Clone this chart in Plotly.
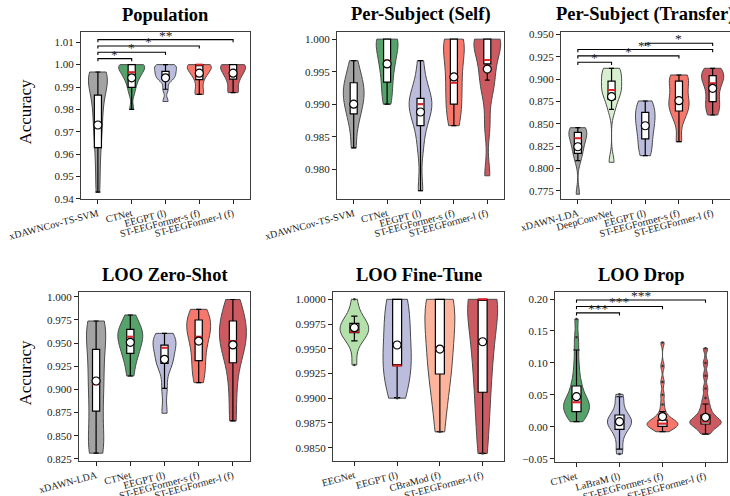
import plotly.graph_objects as go

FONT = "Liberation Serif"

# ---------------- Population ----------------
pop_models = ["xDAWNCov-TS-SVM", "CTNet", "EEGPT (l)", "ST-EEGFormer-s (f)", "ST-EEGFormer-l (f)"]
pop_scores = [
    [0.9430, 0.9520, 0.9600, 0.9660, 0.9710, 0.9750, 0.9790, 0.9830, 0.9860, 0.9890, 0.9910, 0.9930, 0.9950, 0.9960, 0.9967, 0.9967],
    [0.9800, 0.9870, 0.9900, 0.9920, 0.9940, 0.9950, 0.9960, 0.9970, 0.9980, 0.9990, 1.0, 1.0, 1.0, 1.0],
    [0.9835, 0.9890, 0.9930, 0.9940, 0.9950, 0.9960, 0.9970, 0.9980, 0.9990, 1.0, 1.0],
    [0.9867, 0.9867, 0.9900, 0.9930, 0.9950, 0.9960, 0.9970, 0.9980, 0.9990, 1.0, 1.0, 1.0, 1.0],
    [0.9875, 0.9875, 0.9910, 0.9930, 0.9950, 0.9960, 0.9970, 0.9980, 1.0, 1.0, 1.0, 1.0],
]
pop_q1 = [0.9629, 0.9898, 0.9936, 0.9933, 0.9935]
pop_med = [0.9730, 0.9966, 0.9950, 1.0000, 0.9967]
pop_q3 = [0.9864, 1.0000, 0.9970, 1.0000, 1.0000]
pop_lo = [0.9430, 0.9800, 0.9890, 0.9867, 0.9875]
pop_hi = [0.9967, 1.0000, 1.0000, 1.0000, 1.0000]
pop_mean = [0.9730, 0.9941, 0.9941, 0.9962, 0.9962]
pop_sig = [(0, 1, "*"), (0, 2, "*"), (0, 3, "*"), (0, 4, "**")]

# ---------------- Per-Subject (Self) ----------------
self_models = ["xDAWNCov-TS-SVM", "CTNet", "EEGPT (l)", "ST-EEGFormer-s (f)", "ST-EEGFormer-l (f)"]
self_scores = [
    [0.9833, 0.9867, 0.9883, 0.9900, 0.9900, 0.9917, 0.9917, 0.9933, 0.9933, 0.9950, 0.9967],
    [0.9900, 0.9917, 0.9933, 0.9950, 0.9967, 0.9967, 0.9983, 1.0, 1.0, 1.0, 1.0],
    [0.9767, 0.9833, 0.9867, 0.9883, 0.9900, 0.9900, 0.9900, 0.9917, 0.9933, 0.9967],
    [0.9867, 0.9883, 0.9900, 0.9917, 0.9933, 0.9950, 0.9967, 0.9983, 1.0, 1.0, 1.0],
    [0.9790, 0.9867, 0.9917, 0.9933, 0.9950, 0.9967, 0.9983, 1.0, 1.0, 1.0, 1.0],
]
self_q1 = [0.9885, 0.9934, 0.9867, 0.9900, 0.9962]
self_med = [0.9900, 0.9967, 0.9900, 0.9933, 0.9968]
self_q3 = [0.9933, 1.0000, 0.9909, 1.0000, 1.0000]
self_lo = [0.9833, 0.9900, 0.9767, 0.9867, 0.9937]
self_hi = [0.9967, 1.0000, 0.9967, 1.0000, 1.0000]
self_mean = [0.9900, 0.9962, 0.9888, 0.9942, 0.9954]
self_sig = []

# ---------------- Per-Subject (Transfer) ----------------
tr_models = ["xDAWN-LDA", "DeepConvNet", "EEGPT (l)", "ST-EEGFormer-s (f)", "ST-EEGFormer-l (f)"]
tr_scores = [
    [0.7710, 0.8086, 0.8170, 0.8220, 0.8280, 0.8330, 0.8360, 0.8400, 0.8430, 0.8455, 0.8455],
    [0.8068, 0.8661, 0.8780, 0.8850, 0.8880, 0.8930, 0.9000, 0.9050, 0.9120, 0.9120],
    [0.8142, 0.8220, 0.8330, 0.8420, 0.8500, 0.8560, 0.8630, 0.8700, 0.8754],
    [0.8298, 0.8550, 0.8640, 0.8700, 0.8740, 0.8800, 0.8900, 0.8980, 0.9030, 0.9045],
    [0.8597, 0.8680, 0.8746, 0.8850, 0.8950, 0.9000, 0.9040, 0.9080, 0.9120],
]
tr_q1 = [0.8168, 0.8773, 0.8329, 0.8642, 0.8746]
tr_med = [0.8336, 0.8877, 0.8504, 0.8743, 0.8952]
tr_q3 = [0.8403, 0.8977, 0.8627, 0.8977, 0.9037]
tr_lo = [0.8086, 0.8661, 0.8142, 0.8298, 0.8597]
tr_hi = [0.8455, 0.9120, 0.8754, 0.9045, 0.9120]
tr_mean = [0.8242, 0.8802, 0.8477, 0.8757, 0.8896]
tr_sig = [(0, 1, "*"), (0, 3, "*"), (0, 4, "**"), (2, 4, "*")]

# ---------------- LOO Zero-Shot ----------------
zs_models = ["xDAWN-LDA", "CTNet", "EEGPT (l)", "ST-EEGFormer-s (f)", "ST-EEGFormer-l (f)"]
zs_scores = [
    [0.8312, 0.8312, 0.8450, 0.8600, 0.8765, 0.8900, 0.9056, 0.9150, 0.9300, 0.9433, 0.9550, 0.9650, 0.9738, 0.9738],
    [0.9145, 0.9300, 0.9390, 0.9450, 0.9520, 0.9569, 0.9600, 0.9648, 0.9700, 0.9803],
    [0.8743, 0.9012, 0.9250, 0.9282, 0.9350, 0.9450, 0.9479, 0.9520, 0.9580, 0.9605],
    [0.9073, 0.9200, 0.9310, 0.9450, 0.9569, 0.9620, 0.9680, 0.9749, 0.9800, 0.9864],
    [0.8660, 0.9000, 0.9288, 0.9400, 0.9523, 0.9580, 0.9650, 0.9738, 0.9850, 0.9970],
]
zs_q1 = [0.8765, 0.9390, 0.9282, 0.9310, 0.9288]
zs_med = [0.9056, 0.9569, 0.9450, 0.9569, 0.9523]
zs_q3 = [0.9433, 0.9648, 0.9479, 0.9749, 0.9738]
zs_lo = [0.8312, 0.9145, 0.9012, 0.9073, 0.8660]
zs_hi = [0.9738, 0.9803, 0.9605, 0.9864, 0.9970]
zs_mean = [0.9091, 0.9508, 0.9325, 0.9522, 0.9480]
zs_sig = []

# ---------------- LOO Fine-Tune ----------------
ft_models = ["EEGNet", "EEGPT (l)", "CBraMod (f)", "ST-EEGFormer-l (f)"]
ft_scores = [
    [0.99336, 0.9958, 0.9966, 0.9967, 0.9967, 0.9971, 0.9975, 0.9976, 0.9983, 1.0],
    [0.9900, 0.9917, 0.9933, 0.9933, 0.9950, 0.9967, 0.9983, 1.0, 1.0],
    [0.9866, 0.9900, 0.99245, 0.9933, 0.9950, 0.9967, 0.9983, 1.0, 1.0, 1.0],
    [0.9844, 0.9880, 0.9906, 0.9933, 0.9950, 0.9967, 1.0, 1.0, 1.0, 1.0],
]
ft_q1 = [0.99662, 0.99329, 0.99245, 0.99060]
ft_med = [0.99672, 0.99330, 0.99497, 1.00000]
ft_q3 = [0.99757, 1.00000, 1.00000, 1.00000]
ft_lo = [0.99580, 0.99005, 0.98661, 0.98443]
ft_hi = [0.99830, 1.00000, 1.00000, 1.00000]
ft_mean = [0.99713, 0.99538, 0.99497, 0.99571]
ft_sig = []

# ---------------- LOO Drop ----------------
dr_models = ["CTNet", "LaBraM (l)", "ST-EEGFormer-s (f)", "ST-EEGFormer-l (f)"]
dr_scores = [
    [0.0079, 0.0110, 0.0160, 0.0210, 0.0236, 0.0270, 0.0300, 0.0330, 0.0360, 0.0383, 0.0410, 0.0450,
     0.0500, 0.0580, 0.0638, 0.0720, 0.0850, 0.1000, 0.1202, 0.1400, 0.1687],
    [-0.0427, -0.0349, -0.0200, -0.0100, -0.0040, 0.0000, 0.0030, 0.0060, 0.0079, 0.0100, 0.0120,
     0.0150, 0.0184, 0.0260, 0.0350, 0.0470, 0.0508],
    [-0.0078, -0.0050, -0.0020, 0.0005, 0.0015, 0.0025, 0.0035, 0.0040, 0.0050, 0.0070, 0.0090,
     0.0105, 0.0130, 0.0170, 0.0236, 0.0350, 0.0500, 0.0700, 0.0950, 0.1320],
    [-0.0114, -0.0060, -0.0020, 0.0025, 0.0043, 0.0055, 0.0065, 0.0079, 0.0095, 0.0120, 0.0150,
     0.0184, 0.0230, 0.0290, 0.0356, 0.0450, 0.0600, 0.0800, 0.1000, 0.1228],
]
dr_q1 = [0.0236, -0.0040, 0.0005, 0.0043]
dr_med = [0.0383, 0.0079, 0.0050, 0.0079]
dr_q3 = [0.0638, 0.0184, 0.0105, 0.0184]
dr_lo = [0.0079, -0.0349, -0.0078, -0.0114]
dr_hi = [0.1202, 0.0470, 0.0236, 0.0356]
dr_mean = [0.0471, 0.0079, 0.0160, 0.0148]
dr_sig = [(0, 1, "***"), (0, 2, "***"), (0, 3, "***")]

# ---------------- styling ----------------
model_colors = {
    "xDAWNCov-TS-SVM": "#a3a3a3",
    "xDAWN-LDA": "#a3a3a3",
    "CTNet": "#55a26b",
    "EEGPT (l)": "#bcbcdc",
    "LaBraM (l)": "#bcbcdc",
    "ST-EEGFormer-s (f)": "#f6776c",
    "ST-EEGFormer-l (f)": "#cd5a60",
    "DeepConvNet": "#d8f0d0",
    "EEGNet": "#b4e0ab",
    "CBraMod (f)": "#fcb49c",
}

W, H = 730, 496


def px_dom_x(a, b):
    return [a / W, b / W]


def px_dom_y(top, bottom):
    return [1 - bottom / H, 1 - top / H]


panels = [
    dict(title="Population", models=pop_models, scores=pop_scores, q1=pop_q1, med=pop_med, q3=pop_q3,
         lo=pop_lo, hi=pop_hi, mean=pop_mean, sig=pop_sig, fliers=False,
         vwidth=[0.56, 0.77, 0.65, 0.71, 0.74], bw=[0.0055, 0.0022, 0.0016, 0.0022, 0.0022],
         yrange=[0.9399, 1.0146], tick0=0.94, dtick=0.01, fmt=".2f", ylabel=True,
         dx=px_dom_x(81, 250), dy=px_dom_y(32, 199)),
    dict(title="Per-Subject (Self)", models=self_models, scores=self_scores, q1=self_q1, med=self_med,
         q3=self_q3, lo=self_lo, hi=self_hi, mean=self_mean, sig=self_sig, fliers=False,
         vwidth=[0.62, 0.65, 0.68, 0.62, 0.80], bw=[0.0018, 0.0018, 0.0022, 0.0025, 0.0022],
         yrange=[0.97543, 1.0011], tick0=0.98, dtick=0.005, fmt=".3f", ylabel=False,
         dx=px_dom_x(337, 504), dy=px_dom_y(32, 199)),
    dict(title="Per-Subject (Transfer)", models=tr_models, scores=tr_scores, q1=tr_q1, med=tr_med,
         q3=tr_q3, lo=tr_lo, hi=tr_hi, mean=tr_mean, sig=tr_sig, fliers=False,
         vwidth=[0.53, 0.60, 0.58, 0.60, 0.66], bw=[0.008, 0.009, 0.011, 0.010, 0.009],
         yrange=[0.7657, 0.9526], tick0=0.775, dtick=0.025, fmt=".3f", ylabel=False,
         dx=px_dom_x(561, 729.5), dy=px_dom_y(32, 199)),
    dict(title="LOO Zero-Shot", models=zs_models, scores=zs_scores, q1=zs_q1, med=zs_med, q3=zs_q3,
         lo=zs_lo, hi=zs_hi, mean=zs_mean, sig=zs_sig, fliers=False,
         vwidth=[0.56, 0.73, 0.67, 0.70, 0.79], bw=[0.02, 0.010, 0.010, 0.014, 0.018],
         yrange=[0.8228, 1.0051], tick0=0.825, dtick=0.025, fmt=".3f", ylabel=True,
         dx=px_dom_x(79, 250), dy=px_dom_y(292, 461)),
    dict(title="LOO Fine-Tune", models=ft_models, scores=ft_scores, q1=ft_q1, med=ft_med, q3=ft_q3,
         lo=ft_lo, hi=ft_hi, mean=ft_mean, sig=ft_sig, fliers=True,
         vwidth=[0.67, 0.66, 0.70, 0.70], bw=[0.0010, 0.0025, 0.0028, 0.0028],
         yrange=[0.98365, 1.00074], tick0=0.985, dtick=0.0025, fmt=".4f", ylabel=False,
         dx=px_dom_x(333, 504), dy=px_dom_y(292, 461)),
    dict(title="LOO Drop", models=dr_models, scores=dr_scores, q1=dr_q1, med=dr_med, q3=dr_q3,
         lo=dr_lo, hi=dr_hi, mean=dr_mean, sig=dr_sig, fliers=True,
         vwidth=[0.60, 0.56, 0.72, 0.73], bw=[0.011, 0.010, 0.006, 0.006],
         yrange=[-0.0552, 0.211], tick0=-0.05, dtick=0.05, fmt=".2f", ylabel=False,
         dx=px_dom_x(555, 727), dy=px_dom_y(292, 462)),
]

BOX_W = 0.21
fig = go.Figure()
annotations = []
layout_axes = {}

for k, p in enumerate(panels, start=1):
    xa = "x" if k == 1 else f"x{k}"
    ya = "y" if k == 1 else f"y{k}"
    n = len(p["models"])

    # violins
    for i, (m, vals) in enumerate(zip(p["models"], p["scores"])):
        fig.add_trace(go.Violin(
            x0=i, y=vals, xaxis=xa, yaxis=ya, name=m, width=p["vwidth"][i],
            bandwidth=p["bw"][i], spanmode="hard", scalemode="width",
            fillcolor=model_colors[m], line=dict(color="#4a4a4a", width=1), opacity=1,
            points=False, box_visible=False, meanline_visible=False,
            showlegend=False, hoverinfo="skip"))

    # boxes with whiskers
    for i in range(n):
        fig.add_trace(go.Box(
            x=[i], q1=[p["q1"][i]], median=[p["med"][i]], q3=[p["q3"][i]],
            lowerfence=[p["lo"][i]], upperfence=[p["hi"][i]],
            xaxis=xa, yaxis=ya, width=BOX_W, whiskerwidth=0.7,
            fillcolor="white", line=dict(color="black", width=1.2),
            boxpoints=False, showlegend=False, hoverinfo="skip"))

    # fliers beyond the whiskers
    if p["fliers"]:
        fx, fy = [], []
        for i, vals in enumerate(p["scores"]):
            for v in vals:
                if v > p["hi"][i] + 1e-9 or v < p["lo"][i] - 1e-9:
                    fx.append(i)
                    fy.append(v)
        if fx:
            fig.add_trace(go.Scatter(
                x=fx, y=fy, xaxis=xa, yaxis=ya, mode="markers",
                marker=dict(size=2.5, color="#333333"), showlegend=False, hoverinfo="skip"))

    # red median bars
    mx, my = [], []
    for i, m in enumerate(p["med"]):
        mx += [i - BOX_W / 2, i + BOX_W / 2, None]
        my += [m, m, None]
    fig.add_trace(go.Scatter(
        x=mx, y=my, xaxis=xa, yaxis=ya, mode="lines",
        line=dict(color="#e0262b", width=2), showlegend=False, hoverinfo="skip"))

    # means
    fig.add_trace(go.Scatter(
        x=list(range(n)), y=p["mean"], xaxis=xa, yaxis=ya, mode="markers",
        marker=dict(size=8, color="white", line=dict(color="black", width=1.2)),
        showlegend=False, hoverinfo="skip"))

    # significance brackets
    if p["sig"]:
        span = p["yrange"][1] - p["yrange"][0]
        top = max(max(v) for v in p["scores"])
        bx, by = [], []
        for lvl, (a, b, stars) in enumerate(p["sig"]):
            yb = top + span * (0.036 + 0.038 * lvl)
            tick = span * 0.016
            bx += [a, a, b, b, None]
            by += [yb - tick, yb, yb, yb - tick, None]
            annotations.append(dict(
                x=(a + b) / 2, y=yb, xref=xa, yref=ya, text=stars, showarrow=False,
                xanchor="center", yanchor="bottom", yshift=-5,
                font=dict(family=FONT, size=13.5, color="#222222")))
        fig.add_trace(go.Scatter(
            x=bx, y=by, xaxis=xa, yaxis=ya, mode="lines",
            line=dict(color="black", width=1.1), showlegend=False, hoverinfo="skip"))

    axis_common = dict(showline=True, mirror=True, linecolor="#3d3d3d", linewidth=1,
                       ticks="outside", ticklen=4, tickcolor="#222222", showgrid=False,
                       zeroline=False, automargin=False, ticklabeloverflow="allow")
    layout_axes["xaxis" if k == 1 else f"xaxis{k}"] = dict(
        domain=p["dx"], range=[-0.5, n - 0.5], anchor=ya,
        tickmode="array", tickvals=list(range(n)), ticktext=p["models"], tickangle=-15,
        tickfont=dict(family=FONT, size=10, color="#222222"), **axis_common)
    layout_axes["yaxis" if k == 1 else f"yaxis{k}"] = dict(
        domain=p["dy"], range=p["yrange"], anchor=xa, tick0=p["tick0"], dtick=p["dtick"],
        tickformat=p["fmt"], tickfont=dict(family=FONT, size=11, color="#222222"),
        **axis_common)

    # panel title
    annotations.append(dict(
        x=(p["dx"][0] + p["dx"][1]) / 2, y=p["dy"][1] + 17 / H, xref="paper", yref="paper",
        text=f"<b>{p['title']}</b>", showarrow=False, xanchor="center", yanchor="middle",
        font=dict(family=FONT, size=18.5, color="black")))
    if p["ylabel"]:
        annotations.append(dict(
            x=25 / W, y=(p["dy"][0] + p["dy"][1]) / 2 + 4 / H, xref="paper", yref="paper",
            text="Accuracy", textangle=-90, showarrow=False, xanchor="center", yanchor="middle",
            font=dict(family=FONT, size=17, color="black")))

fig.update_layout(
    width=W, height=H, margin=dict(l=0, r=0, t=0, b=0, autoexpand=False),
    paper_bgcolor="white", plot_bgcolor="white",
    violinmode="overlay", boxmode="overlay",
    font=dict(family=FONT), annotations=annotations, **layout_axes)

fig.write_html("out.html")
